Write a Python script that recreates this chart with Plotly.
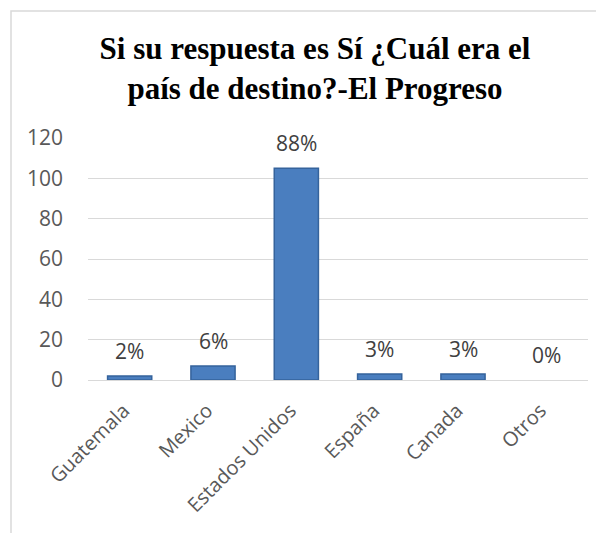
import plotly.graph_objects as go

categories = ["Guatemala", "Mexico", "Estados Unidos", "España", "Canada", "Otros"]
values = [2, 7, 105, 3, 3, 0]
labels = ["2%", "6%", "88%", "3%", "3%", "0%"]
y_ticks = [0, 20, 40, 60, 80, 100, 120]

W, H = 604, 533
OFF = 8  # browser default body margin
ml, mr, mt, mb = 88 - OFF, 16 + OFF, 138 - OFF, 153 + OFF

fig = go.Figure()
fig.add_trace(go.Bar(
    x=categories, y=values,
    marker=dict(color="#4A7EBF",
                line=dict(color="#35639C", width=[1.5 if v > 0 else 0 for v in values])),
    width=0.53,
))

for c, v, t in zip(categories, values, labels):
    fig.add_annotation(x=c, y=v, text=t, showarrow=False, yanchor="bottom",
                       yshift=9, font=dict(family="Open Sans", size=21, color="#404040"))

pw, ph = W - ml - mr, H - mt - mb
def px(xp): return (xp - OFF - ml) / pw
def py(yp): return (H - mb - (yp - OFF)) / ph

fig.add_shape(type="rect", xref="paper", yref="paper",
              x0=px(11), x1=px(640), y0=py(580), y1=py(11),
              line=dict(color="#D9D9D9", width=1.5), layer="below")

fig.update_layout(
    width=W, height=H,
    margin=dict(l=ml, r=mr, t=mt, b=mb),
    paper_bgcolor="white", plot_bgcolor="white",
    showlegend=False,
    title=dict(text="<b>Si su respuesta es Sí ¿Cuál era el<br>país de destino?-El Progreso</b>",
               x=(315 - OFF) / W, xanchor="center", y=1 - (59 - OFF) / H, yanchor="middle",
               font=dict(family="Liberation Serif", size=31, color="black")),
    font=dict(family="Open Sans", size=20, color="#595959"),
)
fig.update_yaxes(range=[0, 120], tickvals=y_ticks, showgrid=True, gridcolor="#D9D9D9",
                 gridwidth=1, zeroline=False, showline=False, ticks="",
                 ticklabelstandoff=24, tickfont=dict(size=21, color="#595959"))
fig.update_xaxes(showline=True, linecolor="#D9D9D9", linewidth=1, ticks="",
                 tickangle=-45, ticklabelstandoff=10, ticklabelshift=-6,
                 tickfont=dict(size=20, color="#595959"))

fig.write_html("out.html")
